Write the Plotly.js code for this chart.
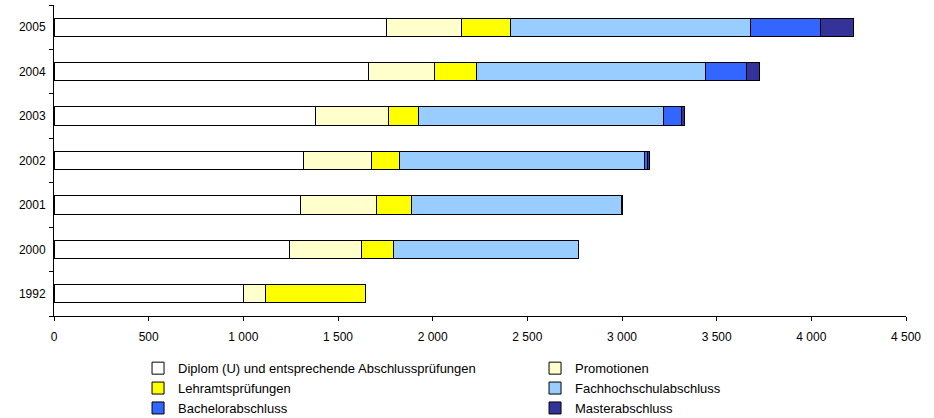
<!DOCTYPE html>
<html><head><meta charset="utf-8">
<script src="https://cdn.plot.ly/plotly-3.0.1.min.js"></script>
<style>body{margin:0;background:#fff}#chart{width:934px;height:418px}</style>
</head><body><div id="chart"></div>
<script>
const years = ["1992","2000","2001","2002","2003","2004","2005"];
const diplom = [1001, 1244, 1301, 1316, 1382, 1660, 1757];
const promotionen = [117, 378, 403, 362, 385, 349, 394];
const lehramt = [526, 170, 182, 148, 157, 224, 261];
const fachhochschule = [null, 976, 1112, 1292, 1294, 1209, 1269];
const bachelor = [null, null, 6, 15, 98, 214, 369];
const master = [null, null, null, 10, 16, 72, 173];
const seriesNames = ["Diplom (U) und entsprechende Abschlussprüfungen","Promotionen","Lehramtsprüfungen","Fachhochschulabschluss","Bachelorabschluss","Masterabschluss"];
const colors = ["#FFFFFF","#FFFFCC","#FFFF00","#99CCFF","#3366FF","#333399"];
const xTicks = [0,500,1000,1500,2000,2500,3000,3500,4000,4500];

const seriesValues = [diplom, promotionen, lehramt, fachhochschule, bachelor, master];
const traces = seriesValues.map((v,i)=>({
  type:'bar', orientation:'h', x:v, y:years, name:seriesNames[i],
  marker:{color:colors[i], line:{color:'#000', width:1}},
  hoverinfo:'x+name'
}));

const layout = {
  width:934, height:418,
  margin:{l:54, r:28, t:5, b:102},
  barmode:'stack', bargap:0.59,
  separators:', ',
  font:{family:'"Liberation Sans", Arial, sans-serif', size:12, color:'#000'},
  paper_bgcolor:'#fff', plot_bgcolor:'#fff',
  xaxis:{range:[0,4500], tickvals:xTicks, separatethousands:true, showgrid:false, zeroline:false,
    showline:true, linecolor:'#000', linewidth:1, ticks:'outside', ticklen:4, tickcolor:'#000',
    ticklabelstandoff:6, tickfont:{size:12}, fixedrange:true},
  yaxis:{type:'category', categoryarray:years, showgrid:false, zeroline:false,
    showline:true, linecolor:'#000', linewidth:1, ticks:'outside', ticklen:4, tickcolor:'#000',
    tickson:'boundaries', ticklabelstandoff:5, tickfont:{size:12}, fixedrange:true},
  legend:{orientation:'h', xref:'container', yref:'container', x:0.1478, xanchor:'left', y:0.155, yanchor:'top',
    entrywidth:352, entrywidthmode:'pixels', traceorder:'normal',
    font:{size:13}, itemwidth:30, bgcolor:'rgba(0,0,0,0)'},
  showlegend:true
};
Plotly.newPlot('chart', traces, layout, {displayModeBar:false, staticPlot:true});
</script></body></html>
